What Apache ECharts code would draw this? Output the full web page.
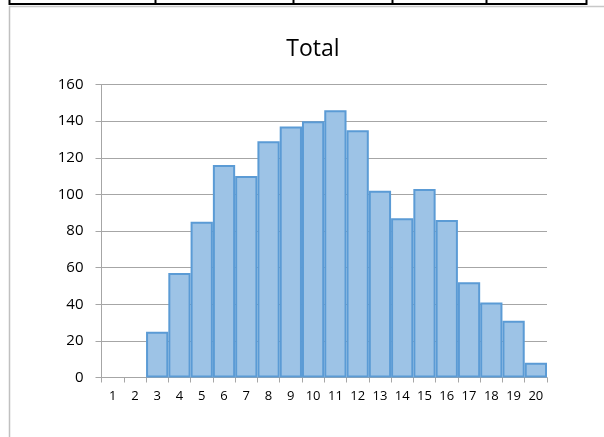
<!DOCTYPE html>
<html>
<head>
<meta charset="utf-8">
<style>
html,body{margin:0;padding:0;background:#fff;}
#c{width:604px;height:437px;}
</style>
<script src="https://cdn.jsdelivr.net/npm/echarts@6/dist/echarts.min.js"></script>
</head>
<body>
<div id="c"></div>
<script>
var categories = ['1','2','3','4','5','6','7','8','9','10','11','12','13','14','15','16','17','18','19','20'];
var totals = [0, 0, 25, 57, 85, 116, 110, 129, 137, 140, 146, 135, 102, 87, 103, 86, 52, 41, 31, 8];
var titleText = 'Total';
var tableColumnX = [9.5, 155.5, 293.5, 392.5, 486.5, 586.5];

var chart = echarts.init(document.getElementById('c'), null, {renderer: 'canvas'});

var graphics = [
  {type: 'line', shape: {x1: 9, y1: 4, x2: 587, y2: 4}, style: {stroke: '#000', lineWidth: 2}, silent: true},
  {type: 'line', shape: {x1: 9, y1: 6.5, x2: 604, y2: 6.5}, style: {stroke: '#c8c8c8', lineWidth: 1.5}, silent: true},
  {type: 'line', shape: {x1: 9.5, y1: 6, x2: 9.5, y2: 437}, style: {stroke: '#c0c0c0', lineWidth: 1.5}, silent: true}
];
tableColumnX.forEach(function (x) {
  graphics.push({type: 'line', shape: {x1: x, y1: 0, x2: x, y2: 5}, style: {stroke: '#000', lineWidth: 2}, silent: true});
});

// zero-height bars are drawn as empty (no border line on the axis)
var barData = totals.map(function (v) { return v === 0 ? '-' : v; });

chart.setOption({
  animation: false,
  title: {
    text: titleText,
    left: 308,
    textAlign: 'center',
    top: 33,
    textStyle: {fontFamily: 'Open Sans', fontSize: 23, fontWeight: 'normal', color: '#000'}
  },
  graphic: graphics,
  grid: {left: 101.5, right: 57, top: 84.5, bottom: 59.5, containLabel: false},
  xAxis: {
    type: 'category',
    data: categories,
    boundaryGap: true,
    axisLine: {lineStyle: {color: '#a6a6a6', width: 1}},
    axisTick: {show: true, alignWithLabel: false, length: 5, lineStyle: {color: '#a6a6a6'}},
    axisLabel: {interval: 0, margin: 12, fontFamily: 'Open Sans', fontSize: 13, color: '#000'}
  },
  yAxis: {
    type: 'value',
    min: 0,
    max: 160,
    interval: 20,
    axisLine: {show: true, lineStyle: {color: '#a6a6a6', width: 1}},
    axisTick: {show: true, length: 6, inside: false, lineStyle: {color: '#a6a6a6'}},
    splitLine: {show: true, lineStyle: {color: '#a6a6a6', width: 1}},
    axisLabel: {margin: 18, fontFamily: 'Open Sans', fontSize: 15, color: '#000'}
  },
  series: [{
    type: 'bar',
    data: barData,
    barCategoryGap: '0%',
    itemStyle: {color: '#9dc3e6', borderColor: '#5b9bd5', borderWidth: 2}
  }]
});
</script>
</body>
</html>
